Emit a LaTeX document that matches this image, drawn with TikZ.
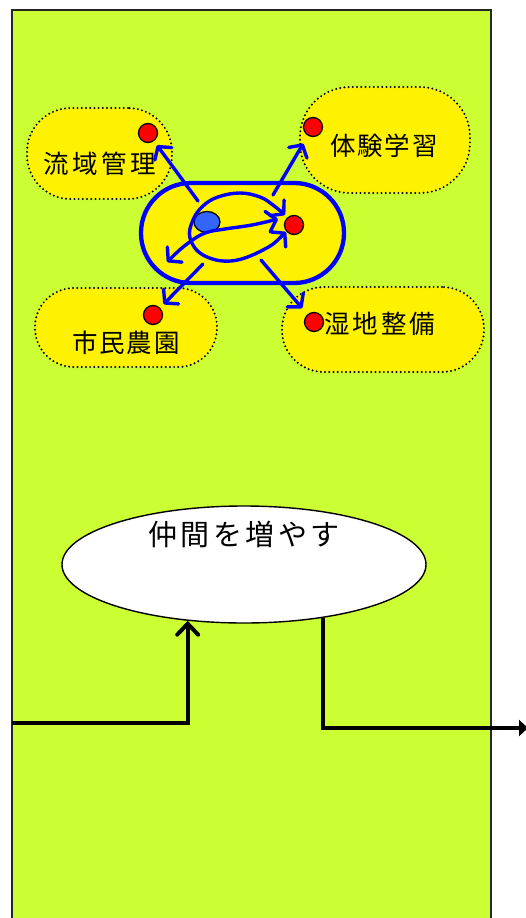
\documentclass[tikz,border=0pt]{standalone}
\usepackage{fontspec}
\newfontfamily\jp{Noto Sans CJK JP}
\usetikzlibrary{arrows.meta,shapes.geometric}
\definecolor{bg}{HTML}{CCFF33}
\definecolor{dotblue}{HTML}{3366FF}
\begin{document}
\begin{tikzpicture}[x=1pt,y=-1pt,
  panelbox/.style={draw=black!85, line width=1.4pt, fill=bg, inner sep=0pt, minimum width=479pt, minimum height=930pt},
  bubble/.style={draw=black, line width=2.2pt, dash pattern=on 0pt off 4.2pt, line cap=round, fill=yellow, inner sep=0pt},
  btext/.style={font=\jp\fontsize{25.5}{25.5}\selectfont, inner sep=0pt},
  reddot/.style={circle, draw=black, line width=1.3pt, fill=red, minimum size=19pt, inner sep=0pt},
  stadium/.style={draw=blue, line width=4.3pt, fill=yellow, rounded corners=49.8pt, minimum width=203pt, minimum height=100pt, inner sep=0pt},
  bluetip/.tip={Straight Barb[length=9pt,width=21pt,line join=round,line cap=round]},
  barrow/.style={draw=blue, line width=3.4pt, line cap=round, line join=round, -bluetip},
  bdouble/.style={draw=blue, line width=3.4pt, line cap=round, line join=round, bluetip-bluetip},
  goalshape/.style={ellipse, draw=black, line width=1.4pt, fill=white, minimum width=364pt, minimum height=117pt, inner sep=0pt},
  karrow/.style={draw=black, line width=4pt, line join=miter},
]
\useasboundingbox (0,0) rectangle (525,918);
% background panel
\node[panelbox] (panel) at (251.5,475) {};

% bubbles
\node[bubble, minimum width=145pt, minimum height=91pt, rounded corners=44pt] (b1) at (99.5,153.5) {};
\node[bubble, minimum width=170pt, minimum height=106pt, rounded corners=50pt] (b2) at (385,140) {};
\node[bubble, minimum width=182pt, minimum height=79pt, rounded corners=39pt] (b3) at (126,327.5) {};
\node[bubble, minimum width=202pt, minimum height=85pt, rounded corners=42pt] (b4) at (383,329.5) {};

\node[btext] (t1) at (100,164) {流\kern3.5pt 域\kern3.5pt 管\kern3.5pt 理};
\node[btext] (t2) at (384,146) {体\kern2pt 験\kern2pt 学\kern2pt 習};
\node[btext] (t3) at (126,343) {市\kern2pt 民\kern2pt 農\kern2pt 園};
\node[btext] (t4) at (380,324) {湿\kern3pt 地\kern3pt 整\kern3pt 備};

\node[reddot] (r1) at (148,133) {};
\node[reddot] (r2) at (313,127) {};
\node[reddot] (r3) at (153,315) {};
\node[reddot] (r4) at (314,322) {};

% central stadium
\node[stadium] (core) at (242.5,233) {};
\node[ellipse, draw=black, line width=1.3pt, fill=dotblue, minimum width=26pt, minimum height=21pt, inner sep=0pt] (bl) at (207,222) {};
\node[reddot] (rc) at (294,225) {};

% inner curves
\draw[bdouble] plot[smooth, tension=0.65] coordinates {(286,232) (263,250) (231,261) (203,255) (190,238) (193,220) (203,206) (218,197) (240,193) (260,197) (273,205) (285,215)};
\draw[bdouble] plot[smooth, tension=0.6] coordinates {(167,262) (187,244) (205,233) (225,229) (252,225) (278,219)};

% radiating arrows
\coordinate (s1) at (198,201);
\coordinate (s2) at (273,195);
\coordinate (s3) at (203,264);
\coordinate (s4) at (261,260);
\draw[barrow, shorten >=5pt] (s1) -- (r1);
\draw[barrow, shorten >=9pt] (s2) -- (r2);
\draw[barrow, shorten >=5pt] (s3) -- (r3);
\draw[barrow, shorten >=8pt] (s4) -- (r4);

% goal ellipse
\node[goalshape] (goal) at (244,564.5) {};
\node[font=\jp\fontsize{29}{29}\selectfont, inner sep=0pt] (goaltext) at (244,534.5) {仲\kern3.5pt 間\kern3.5pt を\kern3.5pt 増\kern3.5pt や\kern3.5pt す};

% black connectors
\coordinate (lin) at (12,723);
\coordinate (rout) at (528,728);
\draw[karrow, -{Straight Barb[length=11pt,width=21pt,line cap=round]}] (lin) -| (goal.225.8);
\draw[karrow, -{Triangle[length=9pt,width=16pt]}] (goal.326.2) |- (rout);
\end{tikzpicture}
\end{document}
